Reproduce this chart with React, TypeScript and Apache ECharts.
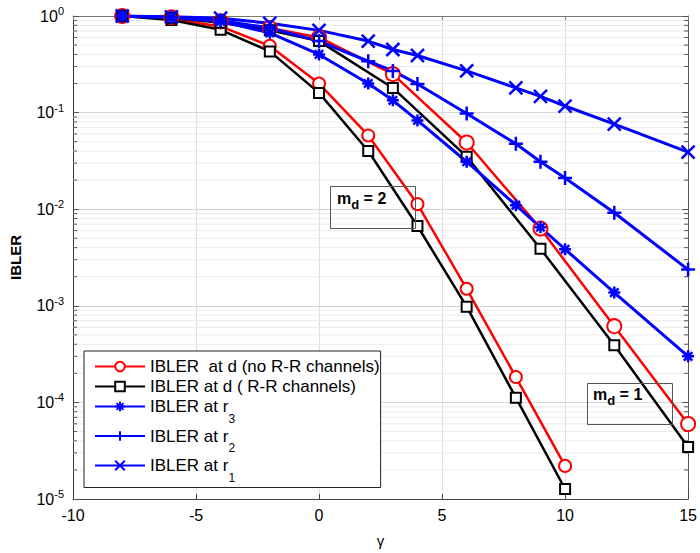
import React, { useEffect, useRef } from 'react';
import * as echarts from 'echarts';

// m_d = 2 curves
const xMd2 = [-8, -6, -4, -2, 0, 2, 4, 6, 8, 10];
const redMd2 = [1.0, 0.93, 0.78, 0.49, 0.2, 0.058, 0.0113, 0.0015, 1.83e-4, 2.2e-5];
const blackMd2 = [1.0, 0.91, 0.72, 0.43, 0.16, 0.04, 0.0067, 0.00098, 1.12e-4, 1.27e-5];
// m_d = 1 curves
const xMd1 = [-8, -6, -4, -2, 0, 3, 6, 9, 12, 15];
const redMd1 = [1.0, 0.97, 0.88, 0.75, 0.6, 0.25, 0.049, 0.0063, 6.15e-4, 5.97e-5];
const blackMd1 = [1.0, 0.96, 0.85, 0.71, 0.55, 0.18, 0.035, 0.0039, 3.9e-4, 3.45e-5];
// relay curves
const xRelay = [-8, -6, -4, -2, 0, 2, 3, 4, 6, 8, 9, 10, 12, 15];
const r3 = [1.0, 0.96, 0.88, 0.67, 0.4, 0.2, 0.134, 0.083, 0.031, 0.011, 0.0065, 0.00385, 0.00137, 3.0e-4];
const r2 = [1.0, 0.97, 0.9, 0.75, 0.55, 0.34, 0.27, 0.198, 0.098, 0.0475, 0.031, 0.021, 0.0092, 0.00237];
const r1 = [1.0, 0.98, 0.95, 0.84, 0.71, 0.55, 0.45, 0.39, 0.27, 0.18, 0.147, 0.117, 0.076, 0.039];

const decades = [-5, -4, -3, -2, -1];
const minorMult = [2, 3, 4, 5, 6, 7, 8, 9];

const NAME_RED = 'IBLER  at d (no R-R channels)';
const NAME_BLACK = 'IBLER at d ( R-R channels)';
const NAME_R3 = 'IBLER at r3';
const NAME_R2 = 'IBLER at r2';
const NAME_R1 = 'IBLER at r1';

const FONT = 'Liberation Sans, Arial, Helvetica, sans-serif';

const pair = (xs: number[], ys: number[]) => xs.map((x, i) => [x, ys[i]]);

const ASTERISK = 'path://M0,-10L0,10M-10,0L10,0M-7,-7L7,7M-7,7L7,-7';
const PLUS = 'path://M0,-10L0,10M-10,0L10,0';
const CROSS = 'path://M-7,-7L7,7M-7,7L7,-7';

export default function App() {
  const ref = useRef<HTMLDivElement>(null);
  useEffect(() => {
    if (!ref.current) return;
    const chart = echarts.init(ref.current, undefined, { renderer: 'svg' });
    const minorVals: number[] = [];
    decades.forEach((e) => minorMult.forEach((m) => minorVals.push(m * Math.pow(10, e))));

    const lineSeries = (name: string, data: number[][], color: string, symbol: string, size: number, width: number, border: number) => ({
      type: 'line',
      name,
      data,
      symbol,
      symbolSize: size,
      symbolKeepAspect: true,
      showAllSymbol: true,
      lineStyle: { color, width },
      itemStyle: { color, borderColor: color, borderWidth: border },
      z: 3,
    });

    const option: any = {
      animation: false,
      backgroundColor: '#fff',
      grid: { left: 70, right: 8, top: 16, bottom: 46, containLabel: false },
      xAxis: [
        {
          type: 'value', min: -10, max: 15, interval: 5,
          name: 'γ', nameLocation: 'middle', nameGap: 34,
          nameTextStyle: { fontFamily: FONT, fontSize: 15, color: '#000' },
          axisLine: { show: true, onZero: false, lineStyle: { color: '#444', width: 1 } },
          axisTick: { show: true, inside: true, length: 5, lineStyle: { color: '#444' } },
          axisLabel: { fontFamily: FONT, fontSize: 16, color: '#000', margin: 8 },
          splitLine: { show: true, lineStyle: { color: '#dedede', width: 1 } },
        },
        {
          type: 'value', min: -10, max: 15, interval: 5, position: 'top',
          axisLine: { show: true, onZero: false, lineStyle: { color: '#777', width: 1 } },
          axisTick: { show: true, inside: true, length: 5, lineStyle: { color: '#777' } },
          axisLabel: { show: false },
          splitLine: { show: false },
        },
      ],
      yAxis: [
        {
          type: 'log', logBase: 10, min: 1e-5, max: 1,
          name: 'IBLER', nameLocation: 'middle', nameGap: 50,
          nameTextStyle: { fontFamily: FONT, fontSize: 15, fontWeight: 'bold', color: '#000' },
          axisLine: { show: true, onZero: false, lineStyle: { color: '#333', width: 1 } },
          axisTick: { show: true, inside: true, length: 6, lineStyle: { color: '#555' } },
          axisLabel: {
            fontFamily: FONT, color: '#000', margin: 9,
            formatter: (v: number) => '{b|10}{sup|' + Math.round(Math.log10(v)) + '}',
            rich: {
              b: { fontFamily: FONT, fontSize: 16, color: '#000' },
              sup: { fontFamily: FONT, fontSize: 11, color: '#000', padding: [0, 0, 10, 0] },
            },
          },
          splitLine: { show: true, lineStyle: { color: '#d8d8d8', width: 1 } },
        },
        {
          type: 'log', logBase: 10, min: 1e-5, max: 1, position: 'right',
          axisLine: { show: true, onZero: false, lineStyle: { color: '#555', width: 1 } },
          axisTick: { show: true, inside: true, length: 6, lineStyle: { color: '#555' } },
          axisLabel: { show: false },
          splitLine: { show: false },
        },
      ],
      legend: {
        orient: 'vertical',
        left: 84,
        top: 351,
        data: [NAME_RED, NAME_BLACK, NAME_R3, NAME_R2, NAME_R1],
        itemWidth: 50,
        itemHeight: 12,
        itemGap: 3,
        padding: [7, 1, 4, 10],
        borderColor: '#222',
        borderWidth: 1,
        backgroundColor: '#fff',
        textStyle: {
          fontFamily: FONT, fontSize: 17, color: '#000',
          rich: {
            n: { fontFamily: FONT, fontSize: 17, color: '#000' },
            sub: { fontFamily: FONT, fontSize: 12, color: '#000', padding: [24, 0, 0, 0] },
          },
        },
        formatter: (name: string) => {
          if (name === NAME_R3) return '{n|IBLER at r}{sub|3}';
          if (name === NAME_R2) return '{n|IBLER at r}{sub|2}';
          if (name === NAME_R1) return '{n|IBLER at r}{sub|1}';
          return '{n|' + name + '}';
        },
      },
      series: [
        {
          type: 'custom',
          name: 'minor-grid',
          silent: true,
          z: 1,
          xAxisIndex: 0,
          yAxisIndex: 0,
          data: minorVals.map((v) => [-10, v]),
          encode: { x: 0, y: 1 },
          renderItem: (params: any, api: any) => {
            const p = api.coord([api.value(0), api.value(1)]);
            const cs = params.coordSys;
            const x0 = cs.x;
            const x1 = cs.x + cs.width;
            return {
              type: 'group',
              children: [
                { type: 'line', shape: { x1: x0, y1: p[1], x2: x1, y2: p[1] }, style: { stroke: '#ebebeb', lineWidth: 1 } },
                { type: 'line', shape: { x1: x0, y1: p[1], x2: x0 + 4, y2: p[1] }, style: { stroke: '#555', lineWidth: 1 } },
                { type: 'line', shape: { x1: x1 - 4, y1: p[1], x2: x1, y2: p[1] }, style: { stroke: '#555', lineWidth: 1 } },
              ],
            };
          },
        },
        lineSeries(NAME_RED, pair(xMd2, redMd2), '#ff0000', 'emptyCircle', 12, 2.5, 2.5),
        lineSeries(NAME_BLACK, pair(xMd2, blackMd2), '#000000', 'emptyRect', 10, 2.5, 2.5),
        lineSeries(NAME_RED, pair(xMd1, redMd1), '#ff0000', 'emptyCircle', 14, 2.5, 2.5),
        lineSeries(NAME_BLACK, pair(xMd1, blackMd1), '#000000', 'emptyRect', 10, 2.5, 2.5),
        lineSeries(NAME_R3, pair(xRelay, r3), '#0000ff', ASTERISK, 12, 3, 2.5),
        lineSeries(NAME_R2, pair(xRelay, r2), '#0000ff', PLUS, 14, 3, 2.5),
        lineSeries(NAME_R1, pair(xRelay, r1), '#0000ff', CROSS, 13, 3, 2.5),
      ],
      graphic: [
        {
          type: 'rect', left: 328, top: 184, z: 10,
          shape: { width: 85, height: 42 },
          style: { fill: 'none', stroke: '#555', lineWidth: 1 },
        },
        {
          type: 'text', left: 337, top: 190, z: 10,
          style: {
            text: '{m|m}{d|d}{m| = 2}',
            rich: {
              m: { fontFamily: FONT, fontSize: 16, fontWeight: 'bold', fill: '#000' },
              d: { fontFamily: FONT, fontSize: 13, fontWeight: 'bold', fill: '#000', padding: [12, 0, 0, 0] },
            },
          },
        },
        {
          type: 'rect', left: 585, top: 381, z: 10,
          shape: { width: 85, height: 41 },
          style: { fill: 'none', stroke: '#555', lineWidth: 1 },
        },
        {
          type: 'text', left: 593, top: 386, z: 10,
          style: {
            text: '{m|m}{d|d}{m| = 1}',
            rich: {
              m: { fontFamily: FONT, fontSize: 16, fontWeight: 'bold', fill: '#000' },
              d: { fontFamily: FONT, fontSize: 13, fontWeight: 'bold', fill: '#000', padding: [12, 0, 0, 0] },
            },
          },
        },
      ],
    };
    chart.setOption(option);
    return () => chart.dispose();
  }, []);
  return <div ref={ref} style={{ position: 'absolute', left: 0, top: 0, width: 700, height: 553 }} />;
}
